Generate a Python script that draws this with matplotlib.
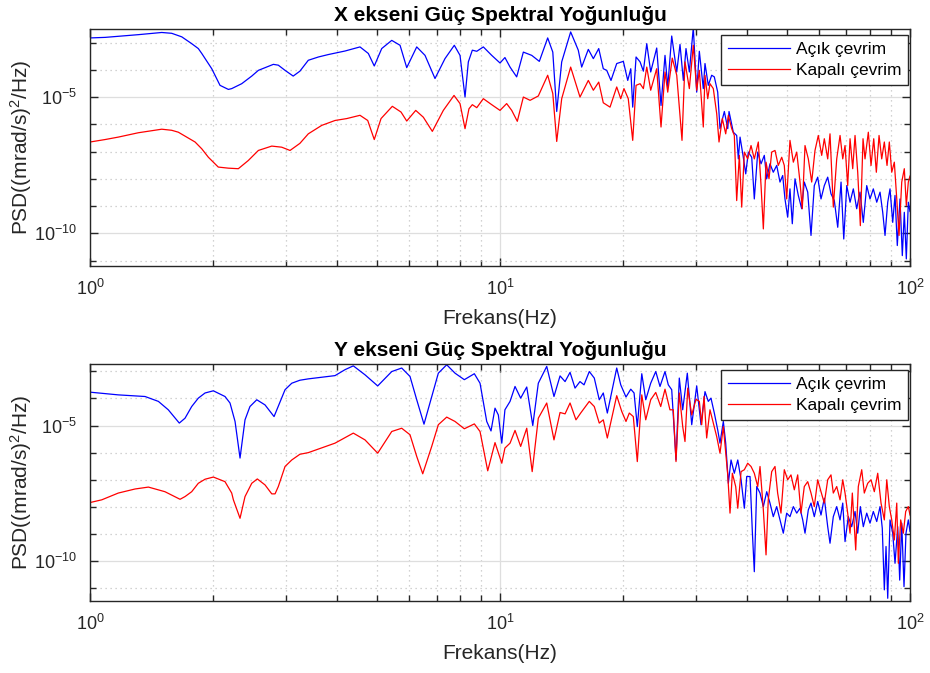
"""
X ve Y eksenleri için açık / kapalı çevrim güç spektral yoğunluğu (PSD)
grafiklerini çizer. Değerler referans grafikten okunmuştur
(frekans Hz, PSD değerleri log10 olarak).
"""

import matplotlib

matplotlib.use("Agg")  # ekran yok: sadece dosyaya kaydet
import matplotlib.pyplot as plt
import numpy as np
from matplotlib.ticker import FixedLocator, LogLocator, NullFormatter

plt.rcParams["font.family"] = ["Liberation Sans", "DejaVu Sans"]
plt.rcParams["mathtext.fontset"] = "custom"
plt.rcParams["mathtext.rm"] = "Liberation Sans"
plt.rcParams["mathtext.it"] = "Liberation Sans:italic"
plt.rcParams["mathtext.bf"] = "Liberation Sans:bold"
plt.rcParams["axes.unicode_minus"] = False

RENK_ACIK = "#0000FF"
RENK_KAPALI = "#FF0000"
RENK_EKSEN = "#262626"

ETIKETLER = ["Açık çevrim", "Kapalı çevrim"]
BASLIK_X = "X ekseni Güç Spektral Yoğunluğu"
BASLIK_Y = "Y ekseni Güç Spektral Yoğunluğu"

# ---------------------------------------------------------------------------
# X ekseni - açık çevrim
# ---------------------------------------------------------------------------
x_acik_frek = [
    1.000, 1.088, 1.172, 1.312, 1.496, 1.582, 1.674, 1.770, 1.837, 1.873,
    1.981, 2.075, 2.175, 2.216, 2.344, 2.480, 2.574, 2.80, 2.879, 2.99,
    3.13, 3.25, 3.407, 3.605, 3.813, 4.188, 4.555, 4.773, 4.935,
    5.146, 5.444, 5.704, 5.922, 6.264, 6.563, 6.941, 7.341, 7.736, 7.988,
    8.216, 8.37, 8.56, 8.776, 9.106, 9.545, 10.0, 10.28, 10.58, 10.98,
    11.40, 11.95, 12.47, 13.07, 13.45, 13.75, 14.14, 14.87, 15.52, 15.82,
    16.42, 16.89, 17.41, 17.86, 18.21, 18.65, 19.26, 19.99, 20.49, 20.84,
    21.07, 21.47, 21.96, 22.37, 22.80, 23.31, 24.11, 24.70, 25.26, 25.65,
    26.23, 26.98, 27.48, 28.00, 28.42, 28.96, 29.61, 30.18, 30.63, 31.32,
    31.62, 32.21, 32.83, 33.32, 33.96, 34.40, 35.25, 35.93, 36.19, 37.07,
    37.78, 38.13, 38.50, 39.21, 39.75, 40.33, 41.11, 41.71, 42.52, 43.32,
    44.12, 44.72, 45.55, 46.40, 47.30, 48.18, 48.92, 49.55, 50.31, 50.96,
    51.63, 52.42, 53.40, 54.43, 55.23, 56.30, 57.35, 58.42, 59.55, 60.66,
    61.80, 62.99, 64.16, 65.37, 66.64, 67.89, 68.93, 70.10, 71.41, 72.74,
    74.13, 75.51, 76.93, 78.42, 79.88, 81.38, 82.96, 84.51, 85.79, 86.91,
    88.24, 89.38, 90.75, 91.93, 93.11, 94.54, 95.77, 96.85, 97.95, 99.06,
    100.0,
]
x_acik_log = [
    -2.83, -2.81, -2.77, -2.71, -2.63, -2.66, -2.79, -3.04, -3.22, -3.40,
    -3.96, -4.57, -4.72, -4.69, -4.51, -4.23, -4.02, -3.80, -3.83, -4.02,
    -4.23, -4.05, -3.65, -3.53, -3.44, -3.31, -3.16, -3.40, -3.86,
    -3.22, -2.92, -3.10, -3.92, -3.16, -3.47, -4.32, -3.59, -3.10, -3.47,
    -5.00, -3.71, -3.28, -3.32, -3.16, -3.47, -3.75, -3.55, -3.90, -4.26,
    -3.35, -3.47, -3.69, -2.83, -3.35, -5.53, -3.71, -2.61, -3.28, -3.90,
    -3.25, -3.59, -3.22, -3.96, -4.02, -4.39, -3.77, -3.69, -4.39, -3.96,
    -5.37, -3.53, -3.71, -4.05, -3.04, -4.08, -3.20, -5.31, -3.47, -4.63,
    -2.76, -4.08, -3.07, -4.39, -3.22, -4.08, -2.45, -4.82, -3.32, -4.69,
    -3.77, -4.57, -4.20, -4.26, -4.82, -6.16, -5.53, -6.16, -5.53, -6.29,
    -6.41, -7.27, -6.47, -7.21, -7.82, -7.02, -7.21, -8.74, -7.02, -7.45,
    -7.14, -8.00, -7.45, -7.76, -7.51, -8.12, -7.88, -8.74, -9.41, -8.37,
    -9.65, -8.00, -8.61, -9.10, -8.12, -8.49, -10.08, -8.25, -7.94, -8.74,
    -8.25, -7.94, -8.55, -8.80, -9.78, -8.12, -10.21, -8.25, -8.86, -8.37,
    -9.10, -8.49, -9.60, -8.25, -8.74, -8.37, -8.86, -8.49, -9.23, -10.08,
    -8.86, -8.37, -9.60, -8.61, -10.45, -8.74, -10.82, -9.23, -10.94, -8.86,
    -9.20,
]

# ---------------------------------------------------------------------------
# X ekseni - kapalı çevrim
# ---------------------------------------------------------------------------
x_kapali_frek = [
    1.000, 1.088, 1.172, 1.312, 1.496, 1.582, 1.642, 1.804, 1.873, 1.944,
    2.055, 2.175, 2.30, 2.432, 2.503, 2.574, 2.775, 2.934, 3.075, 3.25,
    3.407, 3.674, 3.959, 4.228, 4.555, 4.757, 4.935,
    5.126, 5.462, 5.735, 5.922, 6.229, 6.501, 6.838, 7.273, 7.723, 7.988,
    8.216, 8.40, 8.56, 8.776, 9.106, 9.545, 10.0, 10.38, 10.68, 11.02,
    11.40, 11.84, 12.40, 13.07, 13.45, 13.75, 14.14, 14.87, 15.67, 16.42,
    16.89, 17.41, 17.86, 18.55, 19.26, 19.70, 20.06, 20.55, 21.07, 21.47,
    21.96, 22.37, 22.80, 23.31, 24.11, 24.70, 25.26, 25.65, 26.31, 26.98,
    27.79, 28.26, 28.96, 29.61, 30.18, 30.63, 31.32, 31.62, 32.11, 32.52,
    33.13, 33.77, 34.21, 34.85, 35.52, 36.05, 36.74, 37.28, 37.78, 38.35,
    38.86, 39.44, 40.19, 40.95, 41.71, 42.66, 43.32, 43.88, 44.55, 45.30,
    45.99, 46.85, 47.72, 48.65, 49.36, 50.03, 50.96, 51.93, 52.93, 53.91,
    54.61, 55.45, 56.49, 57.57, 58.65, 59.75, 60.90, 61.80, 62.99, 63.81,
    65.00, 66.26, 67.51, 68.54, 69.43, 70.47, 71.41, 72.49, 73.44, 74.55,
    75.66, 76.81, 77.67, 79.13, 80.34, 81.57, 82.77, 84.04, 85.31, 86.57,
    87.89, 89.03, 90.25, 91.57, 92.83, 94.02, 95.46, 96.85, 97.95, 99.06,
    100.0,
]
x_kapali_log = [
    -6.65, -6.56, -6.47, -6.31, -6.18, -6.22, -6.29, -6.65, -6.90, -7.21,
    -7.57, -7.61, -7.63, -7.33, -7.14, -6.96, -6.80, -6.84, -6.96, -6.70,
    -6.35, -6.04, -5.86, -5.79, -5.67, -5.86, -6.56,
    -5.79, -5.34, -5.55, -5.88, -5.49, -5.74, -6.26, -5.49, -4.94, -5.24,
    -6.16, -5.43, -5.28, -5.39, -5.06, -5.28, -5.49, -5.24, -5.49, -5.89,
    -5.00, -5.12, -4.96, -4.20, -4.87, -6.63, -5.06, -3.90, -5.00, -4.39,
    -4.75, -4.45, -5.21, -5.37, -4.63, -5.06, -4.69, -5.06, -6.59, -4.57,
    -4.51, -4.69, -3.90, -4.75, -3.96, -6.10, -4.08, -4.82, -3.57, -4.20,
    -6.59, -3.71, -4.69, -3.10, -4.75, -4.02, -6.10, -4.20, -5.06, -4.51,
    -4.69, -5.61, -6.65, -5.79, -6.35, -5.67, -6.16, -6.41, -8.80, -7.14,
    -9.04, -7.02, -7.27, -6.78, -7.27, -6.65, -8.25, -9.84, -7.39, -8.00,
    -7.02, -6.96, -7.51, -7.21, -7.51, -8.74, -6.59, -7.39, -7.02, -8.12,
    -9.10, -6.78, -7.27, -8.12, -6.96, -6.41, -7.14, -6.53, -7.27, -6.35,
    -9.04, -7.27, -6.41, -7.27, -6.78, -8.25, -6.53, -7.63, -6.41, -7.76,
    -9.72, -6.53, -7.27, -6.29, -7.51, -6.53, -7.76, -6.41, -7.27, -6.65,
    -7.51, -6.65, -7.76, -7.39, -8.74, -10.08, -8.12, -7.63, -8.98, -8.12,
    -7.90,
]

# ---------------------------------------------------------------------------
# Y ekseni - açık çevrim
# ---------------------------------------------------------------------------
y_acik_frek = [
    1.000, 1.172, 1.362, 1.468, 1.552, 1.651, 1.705, 1.770, 1.837, 1.908,
    1.999, 2.134, 2.195, 2.258, 2.322, 2.388, 2.455, 2.551, 2.672, 2.811,
    2.99, 3.105, 3.25, 3.407, 3.959, 4.188,
    4.387, 4.685, 5.031, 5.444, 5.757, 6.032, 6.264, 6.525, 6.814, 7.072,
    7.413, 7.767, 8.184, 8.657, 8.938, 9.281, 9.507, 9.723, 9.906, 10.10,
    10.28, 10.58, 10.88, 11.23, 11.62, 12.02, 12.40, 13.00, 13.54, 14.01,
    14.41, 14.82, 15.24, 15.67, 16.03, 16.51, 16.98, 17.46, 17.86, 18.27,
    18.73, 19.26, 19.70, 20.29, 20.84, 21.23, 21.62, 22.17, 22.67, 23.31,
    23.98, 24.56, 25.26, 25.73, 26.23, 26.87, 27.37, 27.90, 28.63, 29.35,
    30.18, 30.92, 31.62, 32.21, 32.70, 33.32, 33.96, 34.40, 35.05, 35.52,
    36.05, 36.60, 37.28, 38.01, 38.72, 39.44, 39.97, 40.72, 41.25, 41.71,
    42.28, 43.07, 43.88, 44.72, 45.55, 46.40, 47.30, 48.18, 49.09, 50.03,
    50.96, 51.93, 52.93, 53.91, 54.74, 55.45, 56.49, 57.35, 58.42, 59.55,
    60.66, 61.80, 62.99, 63.81, 65.00, 66.26, 67.51, 68.54, 69.43, 70.71,
    72.08, 73.44, 74.55, 75.66, 76.93, 78.42, 79.88, 81.38, 82.96, 84.51,
    85.58, 86.57, 87.40, 88.24, 89.38, 90.75, 91.93, 93.33, 94.38, 95.46,
    96.69, 97.77, 99.06, 100.0,
]
y_acik_log = [
    -3.77, -3.87, -3.93, -4.11, -4.42, -4.91, -4.73, -4.30, -3.99, -3.80,
    -3.72, -3.93, -4.17, -4.85, -6.20, -4.79, -4.30, -4.05, -4.24, -4.67,
    -3.68, -3.44, -3.33, -3.28, -3.16, -2.94,
    -2.80, -3.13, -3.54, -3.01, -2.88, -3.19, -4.05, -4.95, -3.93, -3.07,
    -2.76, -3.07, -3.31, -3.09, -3.44, -4.85, -5.20, -4.36, -4.61, -5.65,
    -4.42, -4.11, -3.56, -3.99, -3.58, -5.00, -3.44, -2.82, -3.93, -3.17,
    -3.38, -3.04, -3.62, -3.38, -3.50, -3.01, -3.25, -4.05, -3.80, -4.54,
    -3.75, -2.88, -3.50, -3.95, -3.66, -3.80, -5.04, -3.09, -4.05, -3.44,
    -3.01, -3.56, -3.01, -3.50, -3.68, -6.27, -3.25, -4.42, -3.07, -4.97,
    -3.54, -4.97, -3.75, -4.11, -3.99, -4.54, -5.16, -5.65, -4.85, -5.65,
    -7.13, -6.27, -6.76, -6.27, -7.00, -8.05, -6.88, -6.88, -8.91, -10.39,
    -7.25, -7.49, -7.99, -7.44, -7.86, -8.36, -7.99, -8.48, -8.97, -8.23,
    -8.36, -7.99, -8.23, -8.05, -8.48, -8.97, -8.11, -7.86, -8.36, -7.80,
    -8.30, -7.68, -8.73, -9.34, -8.36, -7.99, -8.48, -7.86, -9.28, -8.36,
    -8.73, -8.17, -8.97, -7.99, -8.73, -8.23, -8.60, -8.17, -8.54, -7.99,
    -8.79, -11.06, -9.46, -11.37, -8.48, -8.97, -10.08, -8.73, -10.70, -8.60,
    -10.94, -8.97, -8.48, -8.90,
]

# ---------------------------------------------------------------------------
# Y ekseni - kapalı çevrim
# ---------------------------------------------------------------------------
y_kapali_frek = [
    1.000, 1.068, 1.172, 1.288, 1.388, 1.523, 1.658, 1.705, 1.770, 1.837,
    1.908, 1.999, 2.134, 2.216, 2.237, 2.322, 2.388, 2.480, 2.559, 2.672,
    2.775, 2.827, 2.879, 2.99, 3.105, 3.25, 3.407, 3.959,
    4.387, 4.685, 5.031, 5.444, 5.757, 6.032, 6.264, 6.479, 6.814, 7.072,
    7.413, 7.767, 8.184, 8.657, 8.938, 9.333, 9.723, 10.10, 10.28, 10.58,
    10.88, 11.23, 11.62, 11.98, 12.40, 13.00, 13.54, 14.01, 14.41, 14.82,
    15.32, 15.73, 16.51, 16.98, 17.46, 17.86, 18.27, 18.73, 19.26, 19.81,
    20.29, 20.67, 21.14, 21.62, 22.17, 22.67, 23.31, 23.98, 24.66, 25.26,
    25.97, 26.46, 26.87, 27.37, 27.90, 28.26, 28.70, 29.35, 30.06, 30.63,
    31.04, 31.45, 31.92, 32.52, 33.13, 33.77, 34.40, 35.05, 35.93, 36.39,
    36.87, 37.57, 38.01, 38.72, 39.44, 40.19, 40.95, 41.71, 42.52, 43.07,
    43.88, 44.55, 45.11, 45.99, 46.85, 47.55, 48.45, 49.36, 50.31, 51.25,
    52.22, 53.22, 54.21, 55.23, 56.30, 57.35, 58.42, 59.55, 60.66, 61.80,
    62.99, 64.16, 65.00, 66.26, 67.51, 68.54, 69.43, 70.47, 71.41, 72.33,
    73.72, 74.80, 76.25, 77.36, 78.86, 80.34, 81.84, 83.42, 84.98, 86.57,
    87.77, 89.03, 90.25, 91.57, 92.83, 93.65, 94.91, 96.32, 97.61, 99.06,
    100.0,
]
y_kapali_log = [
    -7.84, -7.74, -7.49, -7.34, -7.27, -7.44, -7.72, -7.62, -7.44, -7.13,
    -6.98, -6.90, -7.07, -7.49, -7.74, -8.42, -7.62, -7.13, -6.97, -7.19,
    -7.52, -7.52, -7.25, -6.51, -6.27, -6.06, -6.00, -5.65,
    -5.28, -5.53, -6.02, -5.22, -5.10, -5.34, -6.14, -6.78, -5.77, -4.97,
    -4.69, -4.85, -5.12, -4.94, -5.22, -6.67, -5.63, -6.39, -5.83, -5.65,
    -5.18, -5.77, -5.10, -6.70, -4.73, -4.17, -5.53, -4.52, -4.57, -4.17,
    -4.79, -4.54, -4.11, -4.30, -4.91, -4.79, -5.46, -4.73, -3.90, -4.48,
    -4.85, -4.54, -4.67, -6.33, -3.87, -4.79, -4.05, -3.78, -4.30, -3.66,
    -4.42, -4.42, -6.33, -3.80, -5.04, -5.59, -3.62, -4.61, -4.03, -4.11,
    -4.97, -3.93, -5.46, -4.42, -4.91, -5.41, -6.02, -5.04, -6.82, -8.23,
    -6.76, -7.25, -8.05, -6.70, -6.63, -6.39, -6.51, -6.76, -7.25, -6.51,
    -8.11, -9.77, -7.74, -6.70, -6.51, -7.49, -8.23, -6.63, -7.00, -6.82,
    -7.37, -6.82, -8.23, -7.25, -7.07, -7.49, -7.99, -7.00, -7.44, -7.86,
    -7.00, -6.82, -7.49, -7.25, -7.74, -7.00, -7.49, -8.23, -8.97, -7.49,
    -9.59, -7.25, -6.63, -7.49, -7.13, -7.00, -7.44, -6.76, -7.86, -8.48,
    -7.00, -7.99, -8.48, -9.22, -7.86, -10.08, -8.48, -8.97, -8.17, -7.99,
    -8.30,
]


def ciz_psd(ax, f_acik, p_acik, f_kapali, p_kapali, baslik, y_alt, y_ust):
    ax.loglog(f_acik, 10.0 ** np.array(p_acik), color=RENK_ACIK,
              linewidth=0.9, label=ETIKETLER[0])
    ax.loglog(f_kapali, 10.0 ** np.array(p_kapali), color=RENK_KAPALI,
              linewidth=0.9, label=ETIKETLER[1])

    ax.set_xlim(1, 100)
    ax.set_ylim(y_alt, y_ust)

    # MATLAB tarzı: sadece 1e-10 ve 1e-5 etiketli, diğer on katlar ara çizgi
    ax.yaxis.set_major_locator(FixedLocator([1e-10, 1e-5]))
    ax.yaxis.set_minor_locator(LogLocator(base=10, subs=(1.0,), numticks=30))
    ax.yaxis.set_minor_formatter(NullFormatter())
    ax.xaxis.set_major_locator(FixedLocator([1, 10, 100]))
    ax.xaxis.set_minor_locator(LogLocator(base=10, subs=np.arange(2, 10), numticks=30))
    ax.xaxis.set_minor_formatter(NullFormatter())

    ax.set_axisbelow(True)
    ax.grid(which="major", color="#dedede", linestyle="-", linewidth=0.9)
    ax.grid(which="minor", color="#c4c4c4", linestyle=(0, (1, 3)), linewidth=0.9)

    ax.tick_params(which="both", direction="in", top=True, right=True,
                   color=RENK_EKSEN, labelcolor=RENK_EKSEN, labelsize=13, width=1.0)
    ax.tick_params(which="major", length=6, pad=9)
    ax.tick_params(which="minor", length=4)
    for kenar in ax.spines.values():
        kenar.set_color(RENK_EKSEN)
        kenar.set_linewidth(1.0)

    ax.set_title(baslik, fontsize=15, fontweight="bold", pad=6)
    ax.set_xlabel("Frekans(Hz)", fontsize=15, color=RENK_EKSEN)
    ax.xaxis.set_label_coords(0.5, -0.18)
    ax.set_ylabel(r"PSD((mrad/s)$^{\mathdefault{2}}$/Hz)", fontsize=15, color=RENK_EKSEN)
    ax.yaxis.set_label_coords(-0.068, 0.5)

    lejant = ax.legend(loc="upper right", bbox_to_anchor=(0.9976, 0.975),
                       borderaxespad=0, fontsize=12.5, fancybox=False,
                       edgecolor=RENK_EKSEN, framealpha=1, handlelength=3.6,
                       handletextpad=0.3, labelspacing=0.35, borderpad=0.4)
    lejant.get_frame().set_linewidth(1.0)


def main():
    fig = plt.figure(figsize=(9.3, 6.73), dpi=100)
    ax_x = fig.add_axes([0.0968, 0.6048, 0.8817, 0.3522])
    ax_y = fig.add_axes([0.0968, 0.1070, 0.8817, 0.3522])

    ciz_psd(ax_x, x_acik_frek, x_acik_log, x_kapali_frek, x_kapali_log,
            BASLIK_X, 10 ** -11.2, 10 ** -2.5)
    ciz_psd(ax_y, y_acik_frek, y_acik_log, y_kapali_frek, y_kapali_log,
            BASLIK_Y, 10 ** -11.47, 10 ** -2.73)

    fig.savefig("out.png", dpi=100)
    plt.close(fig)


if __name__ == "__main__":
    main()
